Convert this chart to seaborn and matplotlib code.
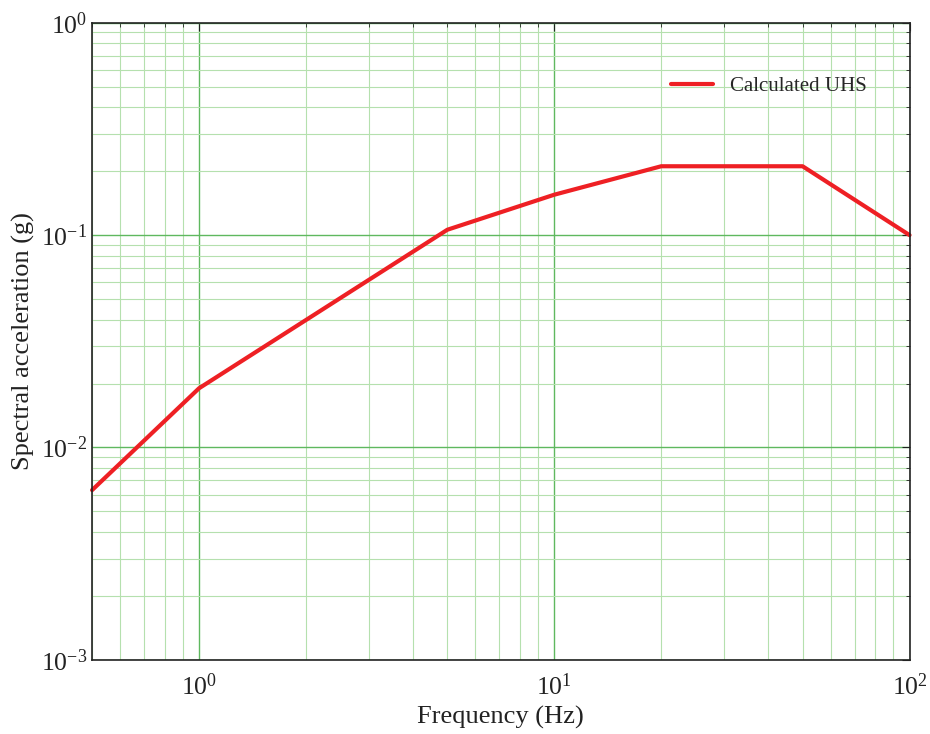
import pandas as pd
import matplotlib.pyplot as plt
import seaborn as sns

# Uniform hazard spectrum corner points
freq = [0.5, 1, 5, 10, 20, 50, 100]
sa = [0.0063, 0.019, 0.106, 0.155, 0.211, 0.211, 0.1]

df = pd.DataFrame({'Frequency': freq, 'SA': sa})

sns.set_style("white")
plt.rcParams['font.family'] = ['Liberation Serif', 'DejaVu Serif']
plt.rcParams['mathtext.fontset'] = 'stix'

fig, ax = plt.subplots(figsize=(9.3, 7.34), dpi=100)
fig.subplots_adjust(left=0.099, right=0.978, top=0.969, bottom=0.101)

sns.lineplot(data=df, x='Frequency', y='SA', ax=ax, color='#ee2024', linewidth=3,
             label='Calculated UHS', clip_on=False)

ax.set_xscale('log')
ax.set_yscale('log')
ax.set_xlim(0.5, 100)
ax.set_ylim(1e-3, 1)

ax.grid(True, which='major', color='#5fb85f', linewidth=1.0)
ax.grid(True, which='minor', color='#b5e0ae', linewidth=0.8)
ax.set_axisbelow(True)

for s in ax.spines.values():
    s.set_color('#222222')
    s.set_linewidth(1.2)

ax.tick_params(which='both', direction='in', top=True, right=True, labelsize=18.5, colors='#222222')
ax.tick_params(which='major', length=6)
ax.tick_params(which='minor', length=3)
ax.tick_params(axis='x', pad=10)

ax.set_xlabel('Frequency (Hz)', fontsize=19, color='#222222')
ax.set_ylabel('Spectral acceleration (g)', fontsize=19, color='#222222')

leg = ax.legend(loc='upper right', bbox_to_anchor=(0.97, 0.945), frameon=False, fontsize=15,
                handlelength=2.0)

plt.savefig('out.png', dpi=100)
plt.close()
